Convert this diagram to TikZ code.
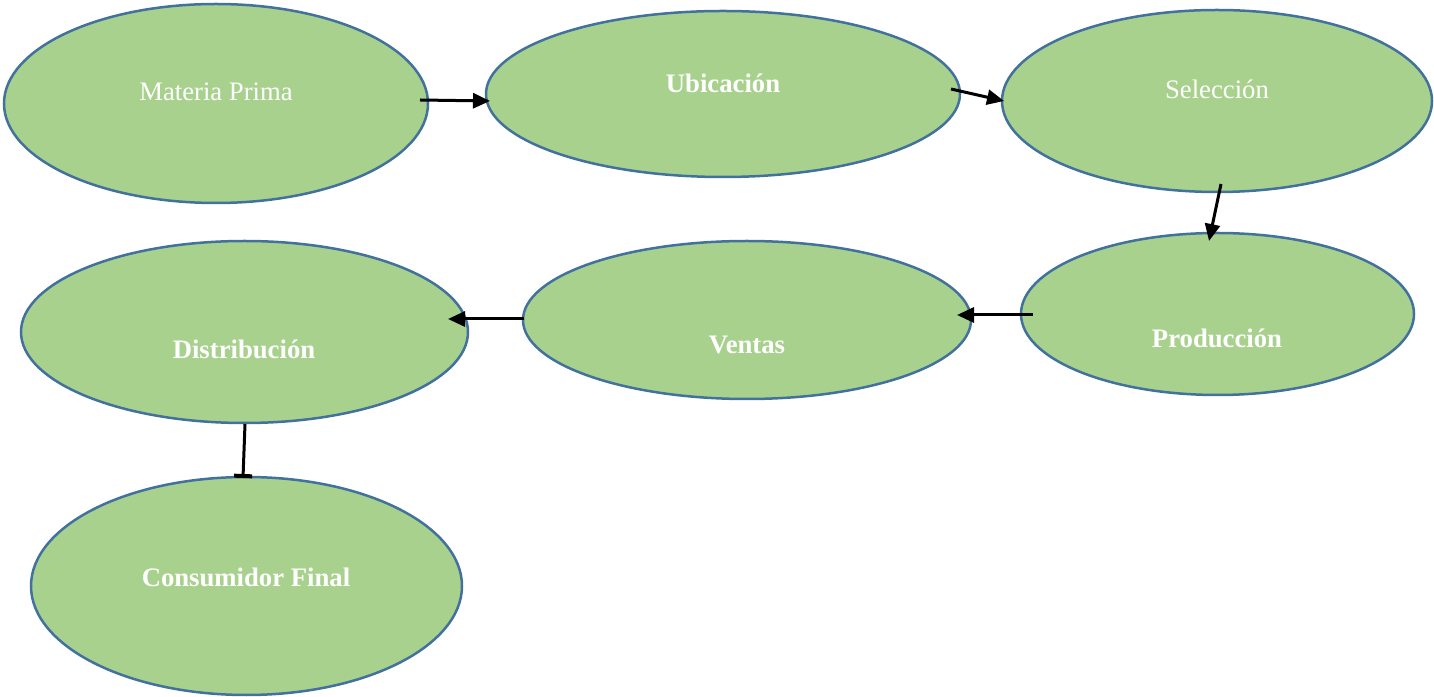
\documentclass[tikz,border=0pt]{standalone}
\usepackage{fontspec}
\setmainfont{Liberation Serif}
\usetikzlibrary{shapes.geometric,arrows.meta}
\definecolor{ellfill}{HTML}{A9D18E}
\definecolor{elldraw}{HTML}{41719C}
\begin{document}
\begin{tikzpicture}[x=1pt,y=1pt,
  ell/.style={ellipse,draw=elldraw,line width=2.5pt,fill=ellfill,inner sep=0pt},
  lbl/.style={text=white,font=\fontsize{26.7}{32}\selectfont,inner sep=0pt},
  blbl/.style={lbl,font=\fontsize{26.7}{32}\selectfont\bfseries},
  arr/.style={line width=3pt,-{Triangle[length=17pt,width=15pt]}},
  barr/.style={line width=3pt,-{Bar[width=18pt,line width=4pt]}}]
\useasboundingbox (0,0) rectangle (1434,696);
% ellipses (y = 696 - pixel y)
\node[ell,minimum width=424pt,minimum height=199pt] (mp) at (216,592.5) {};
\node[ell,minimum width=474pt,minimum height=166pt] (ub) at (723,602) {};
\node[ell,minimum width=430pt,minimum height=182pt] (se) at (1217,595) {};
\node[ell,minimum width=393pt,minimum height=162pt] (pr) at (1217.5,382) {};
\node[ell,minimum width=448pt,minimum height=158pt] (ve) at (747,376) {};
\node[ell,minimum width=447pt,minimum height=182pt] (di) at (244.5,364) {};
\node[ell,minimum width=431pt,minimum height=218pt] (cf) at (246.5,110) {};
% texts
\node[lbl] (tmp) at (216,604) {Materia Prima};
\node[blbl] (tub) at (723,613) {Ubicación};
\node[lbl] (tse) at (1217,607) {Selección};
\node[blbl] (tpr) at (1217,358) {Producción};
\node[blbl] (tve) at (747,351) {Ventas};
\node[blbl] (tdi) at (244,347) {Distribución};
\node[blbl] (tcf) at (246,119) {Consumidor Final};
% connector end points
\coordinate (a1) at (420,596);
\coordinate (b1) at (490,595);
\coordinate (a2) at (951,607);
\coordinate (b2) at (1004,595);
\coordinate (a3) at (1221,512);
\coordinate (b3) at (1209,455);
\coordinate (a4) at (1033,381);
\coordinate (b4) at (957,381);
\coordinate (a5) at (524,377);
\coordinate (b5) at (448,377);
\coordinate (a6) at (245,272);
\coordinate (b6) at (243,218);
\draw[arr] (a1) -- (b1);
\draw[arr] (a2) -- (b2);
\draw[arr] (a3) -- (b3);
\draw[arr] (a4) -- (b4);
\draw[arr] (a5) -- (b5);
\draw[barr] (a6) -- (b6);
\end{tikzpicture}
\end{document}
